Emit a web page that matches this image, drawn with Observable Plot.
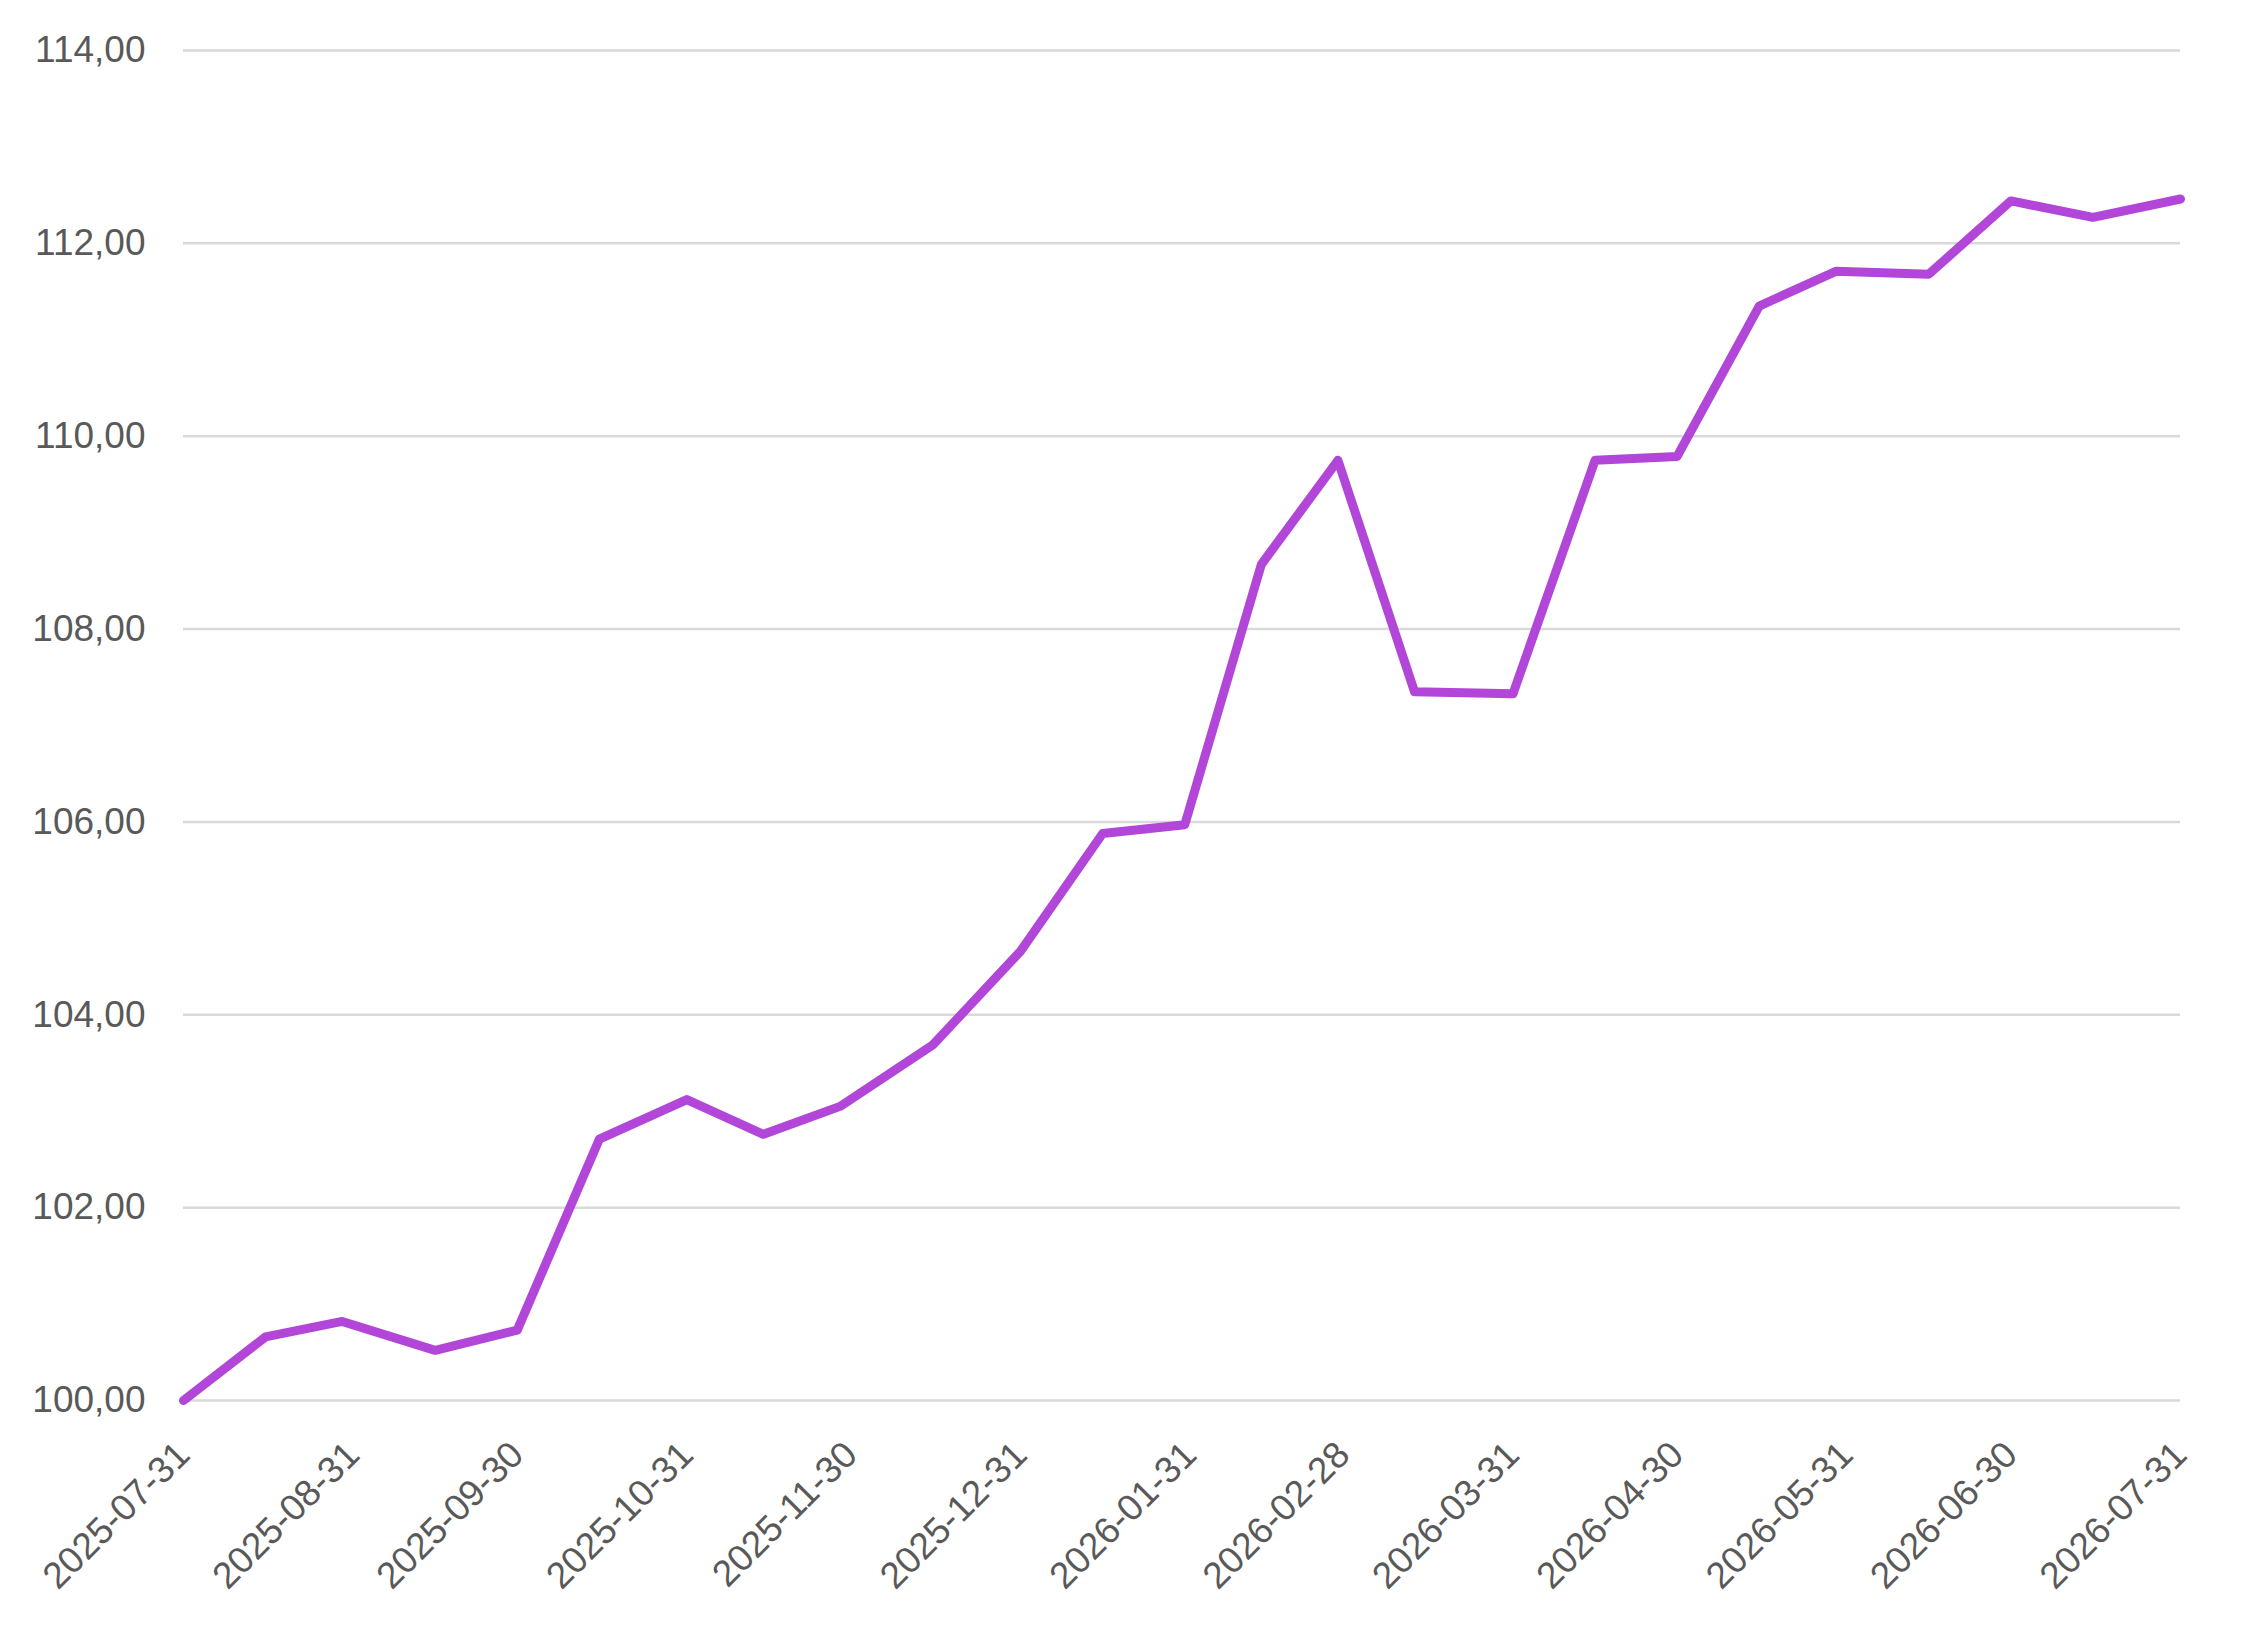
<!DOCTYPE html>
<html>
<head>
<meta charset="utf-8">
<script src="https://cdn.jsdelivr.net/npm/d3@7"></script>
<script src="https://cdn.jsdelivr.net/npm/@observablehq/plot@0.6"></script>
<style>
  html, body { margin: 0; padding: 0; background: #ffffff; overflow: hidden; }
  #chart { width: 2265px; height: 1628px; }
</style>
</head>
<body>
<div id="chart"></div>
<script>
const dates = [
  "2025-07-31", "2025-08-15", "2025-08-29", "2025-09-15", "2025-09-30",
  "2025-10-15", "2025-10-31", "2025-11-14", "2025-11-28", "2025-12-15",
  "2025-12-31", "2026-01-15", "2026-01-30", "2026-02-13", "2026-02-27",
  "2026-03-13", "2026-03-31", "2026-04-15", "2026-04-30", "2026-05-15",
  "2026-05-29", "2026-06-15", "2026-06-30", "2026-07-15", "2026-07-31"
];
const values = [
  100.00, 100.66, 100.82, 100.52, 100.73,
  102.71, 103.12, 102.76, 103.05, 103.69,
  104.66, 105.88, 105.97, 108.67, 109.75,
  107.35, 107.33, 109.75, 109.79, 111.35,
  111.71, 111.68, 112.44, 112.27, 112.46
];
const xTickLabels = [
  "2025-07-31", "2025-08-31", "2025-09-30", "2025-10-31", "2025-11-30",
  "2025-12-31", "2026-01-31", "2026-02-28", "2026-03-31", "2026-04-30",
  "2026-05-31", "2026-06-30", "2026-07-31"
];
const yTicks = [100, 102, 104, 106, 108, 110, 112, 114];

const parse = d3.utcParse("%Y-%m-%d");
const fmtDate = d3.utcFormat("%Y-%m-%d");
const data = dates.map((d, i) => ({date: parse(d), value: values[i]}));
const xTicks = xTickLabels.map(parse);

const chart = Plot.plot({
  width: 2265,
  height: 1628,
  marginLeft: 183,
  marginRight: 85,
  marginTop: 50,
  marginBottom: 228,
  style: {
    fontFamily: "'Liberation Sans', Arial, sans-serif",
    fontSize: "37px",
    color: "#595959",
    background: "#ffffff"
  },
  x: {type: "utc", domain: [xTicks[0], xTicks[xTicks.length - 1]]},
  y: {domain: [100, 114]},
  marks: [
    Plot.gridY(yTicks, {stroke: "#d9d9d9", strokeOpacity: 1, strokeWidth: 2.5}),
    Plot.axisY({
      ticks: yTicks,
      tickSize: 0,
      tickPadding: 38,
      tickFormat: d => d.toFixed(2).replace(".", ","),
      label: null
    }),
    Plot.axisX({
      ticks: xTicks,
      tickSize: 0,
      tickPadding: 48,
      tickRotate: -45,
      tickFormat: d => fmtDate(d),
      label: null
    }),
    Plot.line(data, {
      x: "date",
      y: "value",
      stroke: "#b146d9",
      strokeWidth: 9,
      strokeLinejoin: "round",
      strokeLinecap: "round"
    })
  ]
});
document.getElementById("chart").appendChild(chart);
</script>
</body>
</html>
